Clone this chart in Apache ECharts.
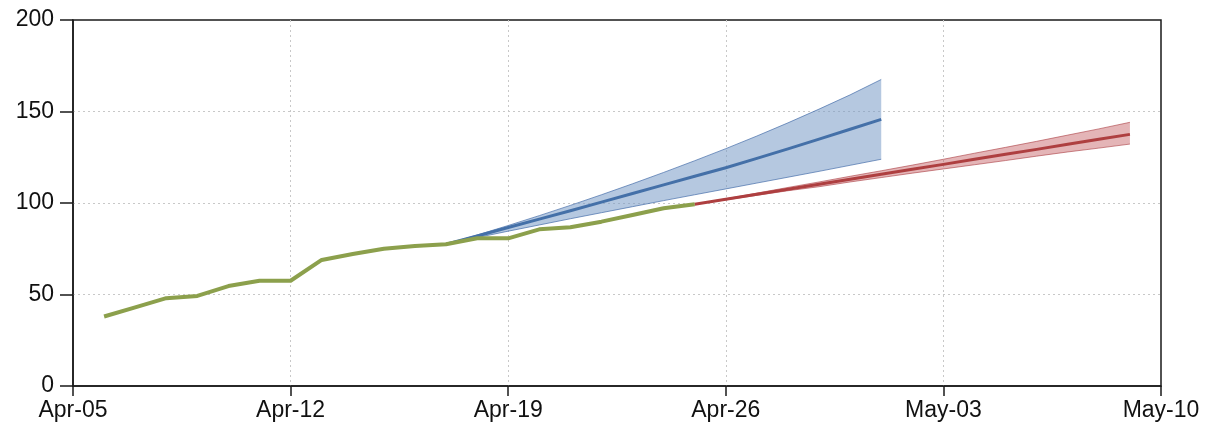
<!DOCTYPE html>
<html>
<head>
<meta charset="utf-8">
<script src="https://cdn.jsdelivr.net/npm/echarts@6/dist/echarts.min.js"></script>
<style>
  html, body { margin: 0; padding: 0; background: #fff; }
  #chart { width: 1206px; height: 431px; }
</style>
</head>
<body>
<div id="chart"></div>
<script>
// Axis origin and weekly tick labels
const originDate = '2020-04-05';
const tickLabels = ['Apr-05', 'Apr-12', 'Apr-19', 'Apr-26', 'May-03', 'May-10'];
const yTicks = [0, 50, 100, 150, 200];

// Observed values (daily)
const actualStart = '2020-04-06';
const actualValues = [38, 43, 48, 49.2, 54.6, 57.5, 57.5, 68.9, 72.1, 75, 76.5, 77.5,
                      80.7, 80.7, 85.6, 86.7, 89.8, 93.4, 97.1, 99.3];

// Projection A (blue) with its band
const blueStart = '2020-04-17';
const blueValues = [77.5, 82, 86.6, 91.2, 95.8, 100.5, 105.2, 109.9, 114.6, 119.3,
                    124.4, 129.6, 134.9, 140.3, 145.7];
const blueUpper = [77.5, 82.5, 87.7, 93.1, 98.7, 104.5, 110.5, 116.7, 123.1, 129.7,
                   136.6, 143.8, 151.3, 159.1, 167.5];
const blueLower = [77.5, 81.1, 84.6, 88, 91.4, 94.7, 98, 101.3, 104.5, 107.7,
                   110.9, 114.1, 117.3, 120.6, 123.9];

// Projection B (red) with its band
const redStart = '2020-04-25';
const redValues = [99.3, 102, 104.8, 107.5, 110.2, 113, 115.7, 118.4, 121.1, 123.9,
                   126.6, 129.3, 132.1, 134.8, 137.5];
const redUpper = [99.3, 102.3, 105.4, 108.5, 111.5, 114.6, 117.6, 120.7, 123.9, 127.2,
                  130.4, 133.7, 137.1, 140.5, 144.1];
const redLower = [99.3, 101.7, 104.2, 106.7, 108.9, 111.5, 113.9, 116.3, 118.6, 120.9,
                  123.2, 125.6, 127.9, 130, 132.2];

const DAY = 86400000;
function dayOffset(dateStr) {
  return Math.round((Date.parse(dateStr) - Date.parse(originDate)) / DAY);
}
function toPoints(startStr, values) {
  const s = dayOffset(startStr);
  return values.map((v, i) => [s + i, v]);
}
function toBand(startStr, lo, hi) {
  const s = dayOffset(startStr);
  return lo.map((v, i) => [s + i, v, hi[i]]);
}

// Shaded band between lower and upper bounds, drawn as one polygon
function bandSeries(startStr, lo, hi, fill, edge) {
  const data = toBand(startStr, lo, hi);
  return {
    type: 'custom',
    silent: true,
    z: 1,
    data: data,
    encode: { x: 0, y: [1, 2] },
    renderItem: function (params, api) {
      if (params.dataIndex !== 0) return null;
      const top = data.map(d => api.coord([d[0], d[2]]));
      const bottom = data.map(d => api.coord([d[0], d[1]])).reverse();
      return {
        type: 'group',
        children: [
          { type: 'polygon', shape: { points: top.concat(bottom) },
            style: { fill: fill, stroke: null } },
          { type: 'polyline', shape: { points: top },
            style: { fill: null, stroke: edge, lineWidth: 1 } },
          { type: 'polyline', shape: { points: bottom },
            style: { fill: null, stroke: edge, lineWidth: 1 } }
        ]
      };
    }
  };
}

function lineSeries(points, color, width, z) {
  return {
    type: 'line',
    data: points,
    showSymbol: false,
    symbol: 'none',
    silent: true,
    z: z,
    lineStyle: { color: color, width: width, join: 'round' }
  };
}

const labelFont = { fontFamily: 'Liberation Sans, Arial, sans-serif', fontSize: 23, color: '#111' };
const gridDots = { color: '#c8c8c8', type: [2, 3], width: 1 };

const chart = echarts.init(document.getElementById('chart'), null, { renderer: 'canvas' });
chart.setOption({
  animation: false,
  backgroundColor: '#ffffff',
  grid: {
    left: 73, right: 45, top: 20, bottom: 45,
    show: true, borderColor: '#1a1a1a', borderWidth: 1.5, backgroundColor: 'transparent'
  },
  xAxis: {
    type: 'value',
    min: 0, max: 35, interval: 7,
    axisLine: { show: true, lineStyle: { color: '#1a1a1a', width: 1.5 } },
    axisTick: { show: true, length: 10, lineStyle: { color: '#1a1a1a', width: 1.5 } },
    axisLabel: Object.assign({
      margin: 13,
      formatter: v => tickLabels[Math.round(v / 7)] || ''
    }, labelFont),
    splitLine: { show: true, showMinLine: false, showMaxLine: false, lineStyle: gridDots }
  },
  yAxis: {
    type: 'value',
    min: yTicks[0], max: yTicks[yTicks.length - 1], interval: 50,
    axisLine: { show: true, lineStyle: { color: '#1a1a1a', width: 1.5 } },
    axisTick: { show: true, length: 13, lineStyle: { color: '#1a1a1a', width: 1.5 } },
    axisLabel: Object.assign({ margin: 19 }, labelFont),
    splitLine: { show: true, showMinLine: false, showMaxLine: false, lineStyle: gridDots }
  },
  series: [
    bandSeries(blueStart, blueLower, blueUpper, 'rgba(120,155,198,0.55)', 'rgba(70,110,170,0.7)'),
    bandSeries(redStart, redLower, redUpper, 'rgba(196,90,95,0.45)', 'rgba(170,60,65,0.6)'),
    lineSeries(toPoints(blueStart, blueValues), '#4470a8', 3, 3),
    lineSeries(toPoints(redStart, redValues), '#ae3f40', 3, 3),
    lineSeries(toPoints(actualStart, actualValues), '#8ca04c', 4, 4)
  ]
});
</script>
</body>
</html>
